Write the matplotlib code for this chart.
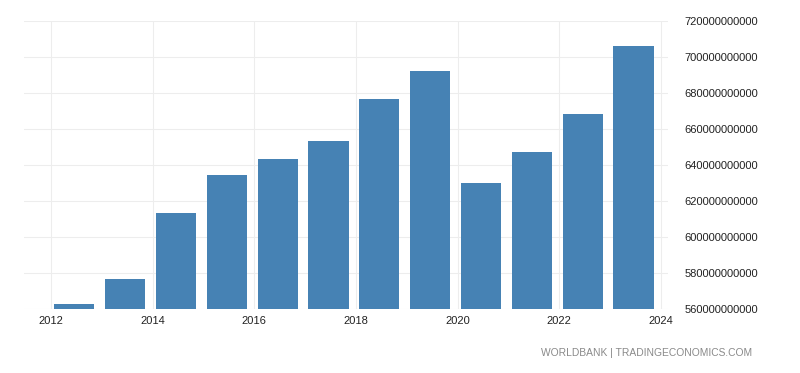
import matplotlib
matplotlib.use("Agg")
import matplotlib.pyplot as plt
from matplotlib.ticker import FuncFormatter

years = [2012, 2013, 2014, 2015, 2016, 2017, 2018, 2019, 2020, 2021, 2022, 2023]
values_bn = [563.0, 576.9, 613.0, 634.1, 643.3, 653.2, 676.3, 691.9, 629.7, 647.1, 668.0, 705.9]
values = [v * 1e9 for v in values_bn]
x_ticks = [2012, 2014, 2016, 2018, 2020, 2022, 2024]
y_ticks = [560e9, 580e9, 600e9, 620e9, 640e9, 660e9, 680e9, 700e9, 720e9]

plt.rcParams['font.family'] = ['Liberation Sans', 'DejaVu Sans']

fig = plt.figure(figsize=(8, 3.73), dpi=100)
ax = fig.add_axes([0.03, 0.1716, 0.805, 0.773])

ax.bar([y + 0.46 for y in years], values, width=0.79, color='#4682B4', zorder=3)

ax.set_xlim(2011.47, 2024.14)
ax.set_ylim(560e9, 720e9)
ax.set_xticks(x_ticks)
ax.set_xticklabels([str(t) for t in x_ticks])
ax.set_yticks(y_ticks)
ax.yaxis.set_major_formatter(FuncFormatter(lambda v, p: f"{int(round(v)):d}"))
ax.yaxis.tick_right()

ax.grid(True, color='#ededed', linewidth=0.8, zorder=0)
for s in ax.spines.values():
    s.set_visible(False)
ax.tick_params(axis='both', length=0, labelsize=8, colors='#222222')
ax.tick_params(axis='y', pad=12)
ax.tick_params(axis='x', pad=5)

fig.text(0.94, 0.053, 'WORLDBANK | TRADINGECONOMICS.COM', ha='right', va='center',
         fontsize=7.4, color='#8a8a8a')

fig.savefig('out.png', dpi=100)
